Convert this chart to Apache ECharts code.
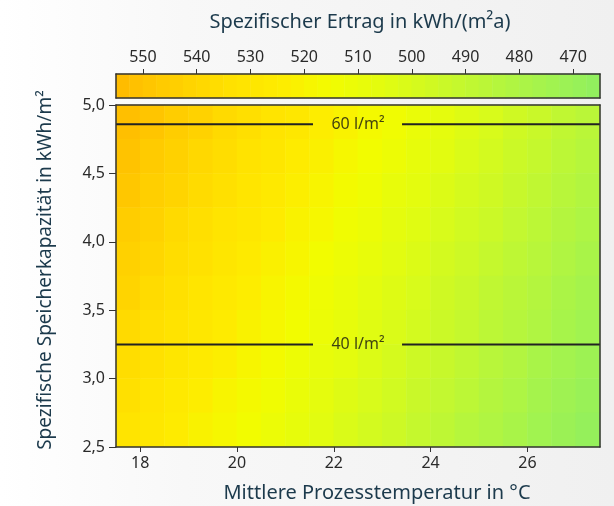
<!DOCTYPE html>
<html>
<head>
<meta charset="utf-8">
<title>Spezifischer Ertrag</title>
<script src="https://cdn.jsdelivr.net/npm/echarts@6/dist/echarts.min.js"></script>
<style>
  html, body { margin: 0; padding: 0; }
  body { background: linear-gradient(90deg, #ffffff 0%, #f8f8f8 30%, #f0f0f0 100%); }
  #ch1 { width: 614px; height: 506px; }
</style>
</head>
<body>
<div id="ch1"></div>
<script>
// Mittlere Prozesstemperatur (Zellmitten, °C)
var temperaturen = [17.75, 18.25, 18.75, 19.25, 19.75, 20.25, 20.75, 21.25, 21.75, 22.25,
                    22.75, 23.25, 23.75, 24.25, 24.75, 25.25, 25.75, 26.25, 26.75, 27.25];
// Spezifische Speicherkapazität (Zellmitten, kWh/m², von oben nach unten)
var kapazitaeten = [4.875, 4.625, 4.375, 4.125, 3.875, 3.625, 3.375, 3.125, 2.875, 2.625];
// Spezifischer Ertrag in kWh/(m²a), eine Zeile je Kapazität
var ertrag = [
  [552, 549, 545, 542, 538, 535, 531, 528, 524, 521, 517, 514, 510, 507, 503, 500, 496, 493, 489, 486],
  [550, 546, 543, 539, 536, 532, 529, 525, 522, 518, 515, 512, 508, 505, 501, 498, 494, 491, 487, 484],
  [548, 544, 541, 537, 534, 530, 527, 523, 520, 516, 513, 509, 506, 502, 499, 496, 492, 489, 485, 482],
  [545, 542, 538, 535, 531, 528, 525, 521, 518, 514, 511, 507, 504, 500, 497, 494, 490, 487, 483, 480],
  [543, 540, 536, 533, 529, 526, 522, 519, 515, 512, 509, 505, 502, 498, 495, 491, 488, 485, 481, 478],
  [541, 537, 534, 530, 527, 524, 520, 517, 513, 510, 506, 503, 500, 496, 493, 489, 486, 483, 479, 476],
  [538, 535, 532, 528, 525, 521, 518, 515, 511, 508, 504, 501, 498, 494, 491, 487, 484, 481, 477, 474],
  [536, 533, 529, 526, 523, 519, 516, 512, 509, 506, 502, 499, 495, 492, 489, 485, 482, 478, 475, 472],
  [534, 530, 527, 524, 520, 517, 514, 510, 507, 503, 500, 497, 493, 490, 487, 483, 480, 476, 473, 470],
  [531, 528, 525, 521, 518, 515, 511, 508, 505, 501, 498, 495, 491, 488, 484, 481, 478, 474, 471, 468]
];
// Stufen der Farbskala oben (links nach rechts)
var skalaStufen = [553.75, 551.25, 548.75, 546.25, 543.75, 541.25, 538.75, 536.25, 533.75,
                   531.25, 528.75, 526.25, 523.75, 521.25, 518.75, 516.25, 513.75, 511.25,
                   508.75, 506.25, 503.75, 501.25, 498.75, 496.25, 493.75, 491.25, 488.75,
                   486.25, 483.75, 481.25, 478.75, 476.25, 473.75, 471.25, 468.75, 466.25];
var skalaTicks = [550, 540, 530, 520, 510, 500, 490, 480, 470];
var xTicks = [18, 20, 22, 24, 26];
// Speichervolumen-Linien
var speicherLinien = [
  { name: '60 l/m²', y: 4.86 },
  { name: '40 l/m²', y: 3.25 }
];
var linienLuecke = [21.57, 23.41]; // Platz für die Beschriftung
var linienText = 22.5;

window.onload = function() {
  var ch1 = echarts.init(document.getElementById('ch1'));
  var schrift = '"Noto Sans", sans-serif';
  var rahmen = { show: true, onZero: false, lineStyle: { color: '#333', width: 1.5 } };

  var feld = [];
  for (var r = 0; r < kapazitaeten.length; r++) {
    for (var c = 0; c < temperaturen.length; c++) {
      feld.push([c, r, ertrag[r][c]]);
    }
  }
  var skala = skalaStufen.map(function(v, i) { return [i, 0, v]; });

  var series = [{
    name: 'Ertrag',
    type: 'heatmap',
    xAxisIndex: 0,
    yAxisIndex: 0,
    data: feld,
    emphasis: { disabled: true }
  }, {
    name: 'Skala',
    type: 'heatmap',
    xAxisIndex: 2,
    yAxisIndex: 2,
    data: skala,
    emphasis: { disabled: true }
  }];

  speicherLinien.forEach(function(l) {
    series.push({
      name: l.name,
      type: 'line',
      xAxisIndex: 1,
      yAxisIndex: 1,
      symbol: 'none',
      z: 5,
      lineStyle: { color: '#222', width: 2 },
      data: [[17.5, l.y], [linienLuecke[0], l.y], [linienText, '-'], [linienLuecke[1], l.y], [27.5, l.y]]
    });
    series.push({
      name: l.name,
      type: 'scatter',
      xAxisIndex: 1,
      yAxisIndex: 1,
      symbolSize: 1,
      z: 6,
      itemStyle: { color: 'transparent' },
      label: {
        show: true,
        position: 'inside',
        formatter: l.name,
        color: '#111',
        fontSize: 16,
        fontFamily: schrift
      },
      data: [[linienText, l.y]]
    });
  });

  var op1 = {
    animation: false,
    backgroundColor: 'transparent',
    grid: [
      { left: 116, top: 105, width: 484, height: 342 },
      { left: 116, top: 74, width: 484, height: 24 }
    ],
    visualMap: {
      show: false,
      type: 'continuous',
      min: 465,
      max: 555,
      seriesIndex: [0, 1],
      inRange: {
        color: ['#8fef60', '#a3f34e', '#b8f63a', '#cdf925', '#e2fc10',
                '#f2fc00', '#feeb00', '#ffdf00', '#ffcd00', '#ffb900']
      }
    },
    xAxis: [{
      type: 'category',
      gridIndex: 0,
      position: 'top',
      data: temperaturen,
      axisLine: rahmen,
      axisTick: { show: false },
      axisLabel: { show: false },
      z: 10
    }, {
      type: 'value',
      gridIndex: 0,
      position: 'bottom',
      min: 17.5,
      max: 27.5,
      axisLine: rahmen,
      axisTick: { show: true, length: 5, customValues: xTicks, lineStyle: { color: '#333' } },
      axisLabel: { customValues: xTicks, margin: 8, fontSize: 16, color: '#2a2a2a', fontFamily: schrift },
      splitLine: { show: false },
      z: 10
    }, {
      type: 'category',
      gridIndex: 1,
      position: 'bottom',
      data: skalaStufen,
      axisLine: rahmen,
      axisTick: { show: false },
      axisLabel: { show: false },
      z: 10
    }, {
      type: 'value',
      gridIndex: 1,
      position: 'top',
      inverse: true,
      min: 465,
      max: 555,
      axisLine: rahmen,
      axisTick: { show: true, length: 5, customValues: skalaTicks, lineStyle: { color: '#333' } },
      axisLabel: { customValues: skalaTicks, margin: 9, fontSize: 16, color: '#2a2a2a', fontFamily: schrift },
      splitLine: { show: false },
      z: 10
    }],
    yAxis: [{
      type: 'category',
      gridIndex: 0,
      position: 'right',
      inverse: true,
      data: kapazitaeten,
      axisLine: rahmen,
      axisTick: { show: false },
      axisLabel: { show: false },
      z: 10
    }, {
      type: 'value',
      gridIndex: 0,
      position: 'left',
      min: 2.5,
      max: 5,
      interval: 0.5,
      axisLine: rahmen,
      axisTick: { show: true, length: 7, lineStyle: { color: '#333' } },
      axisLabel: {
        margin: 11,
        fontSize: 16,
        color: '#2a2a2a',
        fontFamily: schrift,
        formatter: function(v) { return v.toFixed(1).replace('.', ','); }
      },
      splitLine: { show: false },
      z: 10
    }, {
      type: 'category',
      gridIndex: 1,
      position: 'left',
      data: ['Skala'],
      axisLine: rahmen,
      axisTick: { show: false },
      axisLabel: { show: false },
      z: 10
    }, {
      type: 'value',
      gridIndex: 1,
      position: 'right',
      min: 0,
      max: 1,
      axisLine: rahmen,
      axisTick: { show: false },
      axisLabel: { show: false },
      splitLine: { show: false },
      z: 10
    }],
    graphic: [{
      type: 'text',
      x: 360,
      y: 22,
      style: {
        text: 'Spezifischer Ertrag in kWh/(m²a)',
        fill: '#1c3a4c',
        font: '20px ' + schrift,
        align: 'center',
        verticalAlign: 'middle'
      }
    }, {
      type: 'text',
      x: 46,
      y: 270,
      rotation: Math.PI / 2,
      style: {
        text: 'Spezifische Speicherkapazität in kWh/m²',
        fill: '#1c3a4c',
        font: '19px ' + schrift,
        align: 'center',
        verticalAlign: 'middle'
      }
    }, {
      type: 'text',
      x: 377,
      y: 493,
      style: {
        text: 'Mittlere Prozesstemperatur in °C',
        fill: '#1c3a4c',
        font: '20px ' + schrift,
        align: 'center',
        verticalAlign: 'middle'
      }
    }],
    series: series
  };

  ch1.setOption(op1);
};
</script>
</body>
</html>
